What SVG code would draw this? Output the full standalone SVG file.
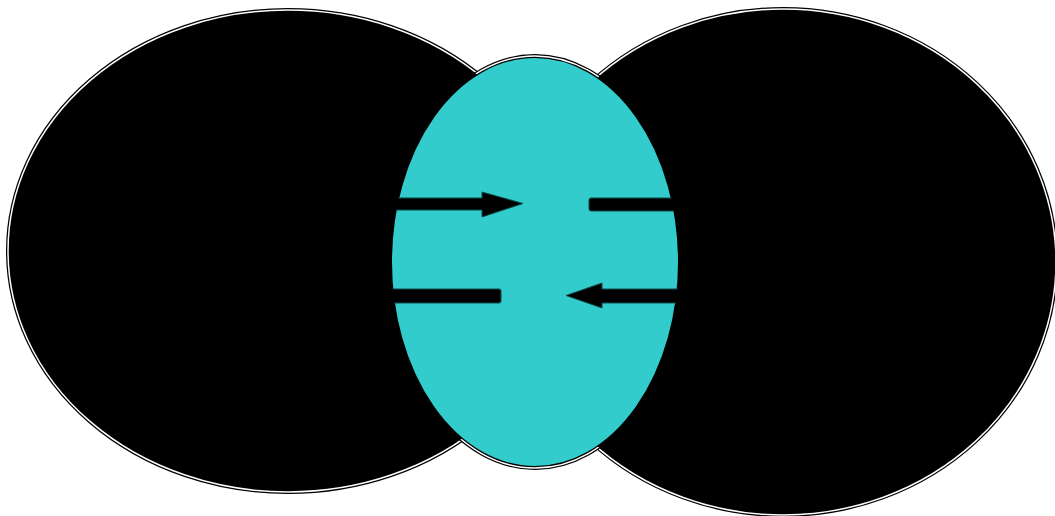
<svg xmlns="http://www.w3.org/2000/svg" width="1055" height="516" viewBox="0 0 1055 516">
<style>
.outer{fill:#000;stroke:#000;stroke-width:4}
.inner{fill:none;stroke:#fff;stroke-width:1.5}
.arrow{fill:#000;stroke:#0d4d4d;stroke-width:1;stroke-linejoin:miter}
</style>
<defs>
<clipPath id="cyanClip"><ellipse cx="535" cy="262" rx="144" ry="205"/></clipPath>
<mask id="outsideBlack" maskUnits="userSpaceOnUse" x="0" y="0" width="1055" height="516">
<rect width="1055" height="516" fill="#fff"/>
<ellipse cx="288" cy="251" rx="279" ry="240" fill="#000"/>
<ellipse cx="783" cy="262" rx="272" ry="252" fill="#000"/>
</mask>
</defs>
<rect width="1055" height="516" fill="#fff"/>
<g id="left-circle">
<ellipse class="outer" cx="288" cy="251" rx="280" ry="241"/>
<ellipse class="inner" cx="288" cy="251" rx="280" ry="241"/>
</g>
<g id="right-circle">
<ellipse class="outer" cx="783" cy="262" rx="273" ry="253"/>
<ellipse class="inner" cx="783" cy="262" rx="273" ry="253"/>
</g>
<g id="center">
<ellipse cx="535" cy="262" rx="145" ry="206" fill="#33cccc" stroke="#000" stroke-width="4"/>
<ellipse cx="535" cy="262" rx="145" ry="206" fill="none" stroke="#fff" stroke-width="1.5" mask="url(#outsideBlack)"/>
</g>
<g id="connectors" clip-path="url(#cyanClip)">
<polygon class="arrow" points="380,198 482,198 482,192 523,203.5 482,217 482,210 380,210"/>
<path class="arrow" d="M690,198 L591,198 Q589,198 589,200 L589,209 Q589,211 591,211 L690,211 Z"/>
<path class="arrow" d="M380,289 L499,289 Q501,289 501,291 L501,301 Q501,303 499,303 L380,303 Z"/>
<polygon class="arrow" points="690,289 602,289 602,283 566,295.5 602,308 602,303 690,303"/>
</g>
</svg>
